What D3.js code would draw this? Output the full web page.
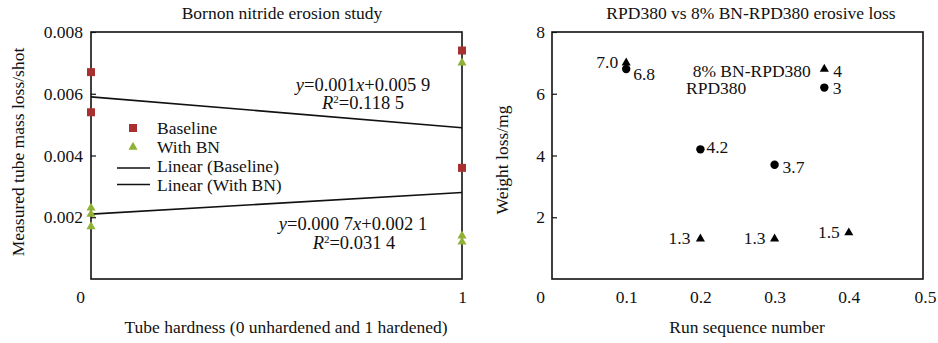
<!DOCTYPE html>
<html>
<head>
<meta charset="utf-8">
<script src="https://cdn.jsdelivr.net/npm/d3@7"></script>
<style>
  html, body { margin: 0; padding: 0; background: #fff; }
  svg { display: block; }
  svg text { fill: #111; font-family: "Liberation Serif", "Times New Roman", serif !important; }
</style>
</head>
<body>
<svg id="chart" width="938" height="343"></svg>
<script>
// ---------- Left chart data ----------
const leftTitle = "Bornon nitride erosion study";
const leftXLabel = "Tube hardness (0 unhardened and 1 hardened)";
const leftYLabel = "Measured tube mass loss/shot";
const leftXTicks = [0, 1];
const leftYTicks = [0.002, 0.004, 0.006, 0.008];
const baselineX = [0, 0, 1, 1];
const baselineY = [0.0067, 0.0054, 0.0074, 0.0036];
const withBNX = [0, 0, 0, 1, 1, 1];
const withBNY = [0.0023, 0.0021, 0.0017, 0.0070, 0.0014, 0.0012];
const trendX = [0, 1];
const trendBaseline = [0.0059, 0.0049];
const trendWithBN = [0.0021, 0.0028];
const legendLabels = ["Baseline", "With BN", "Linear (Baseline)", "Linear (With BN)"];

// ---------- Right chart data ----------
const rightTitle = "RPD380 vs 8% BN-RPD380 erosive loss";
const rightXLabel = "Run sequence number";
const rightYLabel = "Weight loss/mg";
const rightXTicks = [0, 0.1, 0.2, 0.3, 0.4, 0.5];
const rightYTicks = [2, 4, 6, 8];
const bnRunX = [0.1, 0.2, 0.3, 0.367, 0.4];
const bnLoss = [7.0, 1.3, 1.3, 6.8, 1.5];
const bnLabels = ["7.0", "1.3", "1.3", "4", "1.5"];
const rpdRunX = [0.1, 0.2, 0.3, 0.367];
const rpdLoss = [6.8, 4.2, 3.7, 6.2];
const rpdLabels = ["6.8", "4.2", "3.7", "3"];
const seriesNames = ["8% BN-RPD380", "RPD380"];

const svg = d3.select("#chart");
const FS = 17.5;
const red = "#a8302f", green = "#8fb135";

// ======================= LEFT =======================
const L = { x0: 91, x1: 462, y0: 32, y1: 279 };
const xL = d3.scaleLinear().domain([0, 1]).range([L.x0, L.x1]);
const yL = d3.scaleLinear().domain([0, 0.008]).range([L.y1, L.y0]);

const gL = svg.append("g");
const yAxL = gL.append("g").attr("transform", `translate(${L.x0},0)`)
  .call(d3.axisLeft(yL).tickValues(leftYTicks).tickFormat(d3.format(".3f"))
    .tickSizeInner(-5).tickSizeOuter(0).tickPadding(8));
yAxL.attr("font-family", null).attr("font-size", null);
yAxL.select(".domain").remove();
yAxL.selectAll("line").attr("stroke", "#111").attr("stroke-width", 1.2);
yAxL.selectAll("text").attr("font-size", FS).attr("fill", "#111");

const xAxL = gL.append("g").attr("transform", `translate(0,${L.y1})`)
  .call(d3.axisBottom(xL).tickValues(leftXTicks).tickFormat(d3.format("d"))
    .tickSize(0).tickPadding(12));
xAxL.attr("font-family", null).attr("font-size", null);
xAxL.select(".domain").remove();
xAxL.selectAll("text").attr("font-size", FS).attr("fill", "#111")
  .attr("dx", d => d === 0 ? -11 : 0);

gL.append("rect").attr("x", L.x0).attr("y", L.y0).attr("width", L.x1 - L.x0).attr("height", L.y1 - L.y0)
  .attr("fill", "none").attr("stroke", "#111").attr("stroke-width", 1.6);

const line = d3.line();
gL.append("path").attr("d", line(trendX.map((x, i) => [xL(x), yL(trendBaseline[i])])))
  .attr("stroke", "#111").attr("stroke-width", 1.6).attr("fill", "none");
gL.append("path").attr("d", line(trendX.map((x, i) => [xL(x), yL(trendWithBN[i])])))
  .attr("stroke", "#111").attr("stroke-width", 1.6).attr("fill", "none");

const sq = d3.symbol().type(d3.symbolSquare).size(64);
const triG = d3.symbol().type(d3.symbolTriangle).size(36);
gL.selectAll(".bl").data(baselineX).join("path")
  .attr("d", sq).attr("fill", red)
  .attr("transform", (d, i) => `translate(${xL(d)},${yL(baselineY[i])})`);
gL.selectAll(".bn").data(withBNX).join("path")
  .attr("d", triG).attr("fill", green)
  .attr("transform", (d, i) => `translate(${xL(d)},${yL(withBNY[i])})`);

// legend
const lg = gL.append("g");
lg.append("path").attr("d", sq).attr("fill", red).attr("transform", "translate(133,128)");
lg.append("path").attr("d", triG).attr("fill", green).attr("transform", "translate(133,147)");
lg.append("line").attr("x1", 117).attr("x2", 150).attr("y1", 168).attr("y2", 168).attr("stroke", "#111").attr("stroke-width", 1.6);
lg.append("line").attr("x1", 117).attr("x2", 150).attr("y1", 184.5).attr("y2", 184.5).attr("stroke", "#111").attr("stroke-width", 1.6);
const legY = [133.5, 152.5, 171.5, 190.5];
lg.selectAll("text").data(legendLabels).join("text")
  .attr("x", 157).attr("y", (d, i) => legY[i]).attr("font-size", FS).text(d => d);

// equations
function eq(x, y, parts) {
  const t = gL.append("text").attr("x", x).attr("y", y).attr("text-anchor", "middle").attr("font-size", 18.5);
  parts.forEach(p => {
    const ts = t.append("tspan").text(p.t);
    if (p.i) ts.attr("font-style", "italic");
    if (p.sup) ts.attr("baseline-shift", "super").attr("font-size", 11);
  });
}
eq(363, 90.5, [{ t: "y", i: 1 }, { t: "=0.001" }, { t: "x", i: 1 }, { t: "+0.005 9" }]);
eq(363, 109, [{ t: "R", i: 1 }, { t: "2", sup: 1 }, { t: "=0.118 5" }]);
eq(353, 230, [{ t: "y", i: 1 }, { t: "=0.000 7" }, { t: "x", i: 1 }, { t: "+0.002 1" }]);
eq(354, 248.5, [{ t: "R", i: 1 }, { t: "2", sup: 1 }, { t: "=0.031 4" }]);

gL.append("text").attr("x", 282).attr("y", 19).attr("text-anchor", "middle").attr("font-size", FS).text(leftTitle);
gL.append("text").attr("x", 286).attr("y", 333).attr("text-anchor", "middle").attr("font-size", FS).text(leftXLabel);
gL.append("text").attr("transform", "translate(24,152) rotate(-90)").attr("text-anchor", "middle").attr("font-size", FS).text(leftYLabel);

// ======================= RIGHT =======================
const R = { x0: 552, x1: 923, y0: 32, y1: 279 };
const xR = d3.scaleLinear().domain([0, 0.5]).range([R.x0, R.x1]);
const yR = d3.scaleLinear().domain([0, 8]).range([R.y1, R.y0]);
const gR = svg.append("g");

const yAxR = gR.append("g").attr("transform", `translate(${R.x0},0)`)
  .call(d3.axisLeft(yR).tickValues(rightYTicks).tickFormat(d3.format("d"))
    .tickSizeInner(-5).tickSizeOuter(0).tickPadding(7));
yAxR.attr("font-family", null).attr("font-size", null);
yAxR.select(".domain").remove();
yAxR.selectAll("line").attr("stroke", "#111").attr("stroke-width", 1.2);
yAxR.selectAll("text").attr("font-size", FS).attr("fill", "#111");

const xAxR = gR.append("g").attr("transform", `translate(0,${R.y1})`)
  .call(d3.axisBottom(xR).tickValues(rightXTicks).tickFormat(d => d === 0 ? "0" : d3.format(".1f")(d))
    .tickSize(0).tickPadding(12));
xAxR.attr("font-family", null).attr("font-size", null);
xAxR.select(".domain").remove();
xAxR.selectAll("text").attr("font-size", FS).attr("fill", "#111")
  .attr("dx", d => d === 0 ? -12 : (d === 0.5 ? 2 : 0));

gR.append("rect").attr("x", R.x0).attr("y", R.y0).attr("width", R.x1 - R.x0).attr("height", R.y1 - R.y0)
  .attr("fill", "none").attr("stroke", "#111").attr("stroke-width", 1.6);

const triK = d3.symbol().type(d3.symbolTriangle).size(36);
gR.selectAll(".bnr").data(bnRunX).join("path")
  .attr("d", triK).attr("fill", "#000")
  .attr("transform", (d, i) => `translate(${xR(d)},${yR(bnLoss[i])})`);
gR.selectAll(".rpd").data(rpdRunX).join("circle")
  .attr("cx", d => xR(d)).attr("cy", (d, i) => yR(rpdLoss[i])).attr("r", 4.2).attr("fill", "#000");

const bnOff = [[-8, 5, "end"], [-10, 5, "end"], [-9, 5, "end"], [9, 8, "start"], [-9, 5, "end"]];
gR.selectAll(".bnl").data(bnLabels).join("text")
  .attr("x", (d, i) => xR(bnRunX[i]) + bnOff[i][0])
  .attr("y", (d, i) => yR(bnLoss[i]) + bnOff[i][1])
  .attr("text-anchor", (d, i) => bnOff[i][2]).attr("font-size", FS).text(d => d);
const rpdOff = [[7, 11], [6, 4], [8, 8], [8.5, 6.5]];
gR.selectAll(".rpdl").data(rpdLabels).join("text")
  .attr("x", (d, i) => xR(rpdRunX[i]) + rpdOff[i][0])
  .attr("y", (d, i) => yR(rpdLoss[i]) + rpdOff[i][1])
  .attr("font-size", FS).text(d => d);

gR.append("text").attr("x", xR(bnRunX[3]) - 13.5).attr("y", yR(bnLoss[3]) + 8)
  .attr("text-anchor", "end").attr("font-size", FS).text(seriesNames[0]);
gR.append("text").attr("x", xR(rpdRunX[3]) - 78).attr("y", yR(rpdLoss[3]) + 6.7)
  .attr("text-anchor", "end").attr("font-size", FS).text(seriesNames[1]);

gR.append("text").attr("x", 751).attr("y", 18.5).attr("text-anchor", "middle").attr("font-size", FS).text(rightTitle);
gR.append("text").attr("x", 747).attr("y", 333).attr("text-anchor", "middle").attr("font-size", FS).text(rightXLabel);
gR.append("text").attr("transform", "translate(508,160) rotate(-90)").attr("text-anchor", "middle").attr("font-size", FS).text(rightYLabel);
</script>
</body>
</html>
